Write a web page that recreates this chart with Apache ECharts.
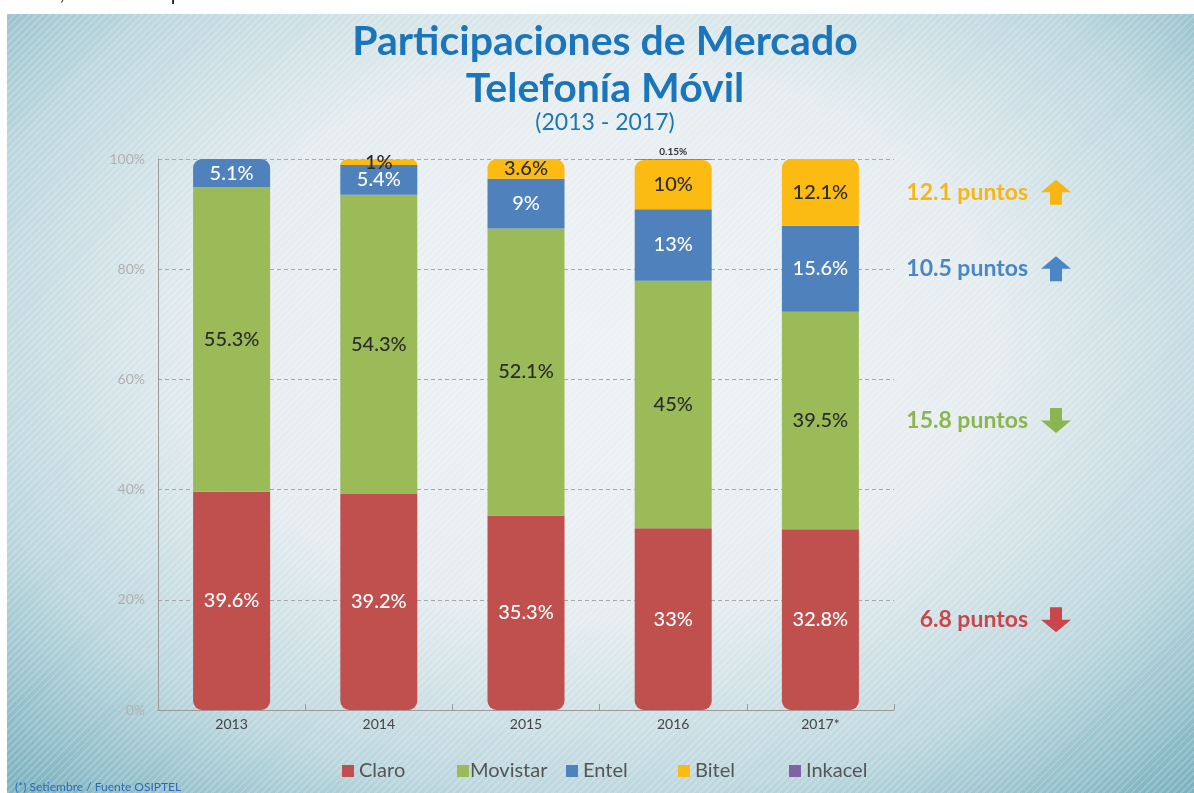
<!DOCTYPE html>
<html>
<head>
<meta charset="utf-8">
<script src="https://cdn.jsdelivr.net/npm/echarts@6/dist/echarts.min.js"></script>
<style>
  html, body { margin: 0; padding: 0; background: #ffffff; width: 1194px; height: 793px; overflow: hidden; }
  #bg {
    position: absolute; left: 7px; top: 14px; width: 1187px; height: 779px;
    background:
      repeating-linear-gradient(135deg, rgba(255,255,255,0.18) 0px, rgba(255,255,255,0.18) 2px, rgba(255,255,255,0) 2px, rgba(255,255,255,0) 5px),
      radial-gradient(ellipse 72% 78% at 50% 42%, #eef2f4 0%, #e6edf0 45%, #bcd7de 75%, #7db3c0 100%);
  }
  #chart { position: absolute; left: 0; top: 0; width: 1194px; height: 793px; }
</style>
</head>
<body>
<div id="bg"></div>
<div id="chart"></div>
<script>
// ---- data ----
var years = ['2013', '2014', '2015', '2016', '2017*'];
var seriesNames = ['Claro', 'Movistar', 'Entel', 'Bitel', 'Inkacel'];
var claro    = [39.6, 39.2, 35.3, 33.0, 32.8];
var movistar = [55.3, 54.3, 52.1, 44.9, 39.5];
var entel    = [5.1, 5.4, 9.0, 13.0, 15.6];
var bitel    = [0, 1.0, 3.6, 8.9, 12.1];
var inkacel  = [0, 0, 0, 0.15, 0];
var claroLabels    = ['39.6%', '39.2%', '35.3%', '33%', '32.8%'];
var movistarLabels = ['55.3%', '54.3%', '52.1%', '45%', '39.5%'];
var entelLabels    = ['5.1%', '5.4%', '9%', '13%', '15.6%'];
var bitelLabels    = ['', '1%', '3.6%', '10%', '12.1%'];
var inkacelLabels  = ['', '', '', '0.15%', ''];
var yTicks = [0, 20, 40, 60, 80, 100];
var annotations = ['12.1 puntos', '10.5 puntos', '15.8 puntos', '6.8 puntos'];
var annotationSeries = ['Bitel', 'Entel', 'Movistar', 'Claro'];
var annotationDir = ['up', 'up', 'down', 'down'];

var colors = { Claro: '#c0504d', Movistar: '#9bbb59', Entel: '#4f81bd', Bitel: '#fcbb12', Inkacel: '#8064a2' };
var annColors = { Claro: '#c9474a', Movistar: '#8cb44f', Entel: '#4a86c6', Bitel: '#f7b613' };
var FONT = 'Lato, "Open Sans", sans-serif';

var values = [claro, movistar, entel, bitel, inkacel];
var labels = [claroLabels, movistarLabels, entelLabels, bitelLabels, inkacelLabels];
var labelColors = ['#ffffff', '#2b2b2b', '#ffffff', '#2b2b2b', '#333333'];

// topmost non-zero segment per category gets rounded top
var R = 9;
function radiusFor(si, ci) {
  var top = -1;
  for (var s = 0; s < values.length; s++) if (values[s][ci] > 0) top = s;
  var tl = 0, bl = 0;
  if (si === top) tl = R;
  if (ci === 3 && si === 3) tl = R; // Bitel under very thin Inkacel
  if (si === 0) bl = R;
  return [tl, tl, bl, bl];
}

var series = seriesNames.map(function (name, si) {
  return {
    name: name,
    type: 'bar',
    stack: 'total',
    barWidth: 77,
    clip: false,
    itemStyle: { color: colors[name] },
    label: {
      show: true,
      position: si === 4 ? 'top' : 'inside',
      distance: 2,
      color: labelColors[si],
      fontFamily: FONT,
      fontSize: si === 4 ? 10 : 20,
      fontWeight: si === 4 ? 'bold' : 500,
      formatter: function (p) { return labels[si][p.dataIndex]; }
    },
    data: values[si].map(function (v, ci) {
      return { value: v, itemStyle: { borderRadius: radiusFor(si, ci) } };
    })
  };
});

var legendX = [337, 452, 561, 673, 784];
var legends = seriesNames.map(function (n, i) {
  return {
    data: [n], left: legendX[i], top: 756, icon: 'rect',
    itemWidth: 12, itemHeight: 12, itemGap: 0,
    textStyle: { color: '#555555', fontSize: 20, fontFamily: FONT, padding: [0, 0, 0, i === 1 ? -4 : 0] }
  };
});

var chart = echarts.init(document.getElementById('chart'), null, { renderer: 'canvas' });
chart.setOption({
  backgroundColor: 'transparent',
  animation: false,
  legend: legends,
  grid: { left: 158, right: 300, top: 159, bottom: 83 },
  xAxis: {
    type: 'category',
    data: years,
    axisLine: { lineStyle: { color: '#9a9a9a' } },
    axisTick: { show: true, inside: true, length: 6, lineStyle: { color: '#9a9a9a' } },
    axisLabel: { color: '#444444', fontSize: 14, fontFamily: FONT, margin: 7 }
  },
  yAxis: {
    type: 'value', min: 0, max: 100, interval: 20,
    axisLine: { show: true, lineStyle: { color: '#9a9a9a' } },
    axisTick: { show: false },
    axisLabel: {
      color: '#b0b0b0', fontSize: 14, fontFamily: FONT, margin: 13,
      formatter: function (v) { return yTicks.indexOf(v) >= 0 ? v + '%' : ''; }
    },
    splitLine: { show: true, lineStyle: { color: '#a8a8a8', type: [4, 3] } }
  },
  series: series
});

// graphics: title, subtitle, annotations, footnote
var graphics = [
  { type: 'text', left: 0, top: -17, style: { text: 'e 100r, 2.4% más que en el 2016.', fill: '#222', font: '21px ' + FONT } },
  { type: 'text', x: 605, y: 42, style: { text: 'Participaciones de Mercado', fill: '#1b75bb', font: 'bold 41px ' + FONT, textAlign: 'center', textVerticalAlign: 'middle' } },
  { type: 'text', x: 605, y: 89, style: { text: 'Telefonía Móvil', fill: '#1b75bb', font: 'bold 41px ' + FONT, textAlign: 'center', textVerticalAlign: 'middle' } },
  { type: 'text', x: 605, y: 123, style: { text: '(2013 - 2017)', fill: '#1b75bb', font: '23px ' + FONT, textAlign: 'center', textVerticalAlign: 'middle' } },
  { type: 'text', x: 15, y: 787, style: { text: '(*) Setiembre / Fuente OSIPTEL', fill: '#2a6db5', font: '12px ' + FONT, textAlign: 'left', textVerticalAlign: 'middle' } }
];

annotations.forEach(function (t, i) {
  var sName = annotationSeries[i];
  var si = seriesNames.indexOf(sName);
  var base = 0;
  for (var s = 0; s < si; s++) base += values[s][4];
  var mid = base + values[si][4] / 2;
  var py = chart.convertToPixel({ gridIndex: 0 }, [4, mid])[1];
  var c = annColors[sName];
  graphics.push({ type: 'text', x: 1028, y: py, style: { text: t, fill: c, font: 'bold 23px ' + FONT, textAlign: 'right', textVerticalAlign: 'middle' } });
  var cx = 1056, h = 25, hw = 15, sw = 6;
  var pts;
  if (annotationDir[i] === 'up') {
    pts = [[cx, py - h / 2], [cx + hw, py], [cx + sw, py], [cx + sw, py + h / 2], [cx - sw, py + h / 2], [cx - sw, py], [cx - hw, py]];
  } else {
    pts = [[cx, py + h / 2], [cx + hw, py], [cx + sw, py], [cx + sw, py - h / 2], [cx - sw, py - h / 2], [cx - sw, py], [cx - hw, py]];
  }
  graphics.push({ type: 'polygon', shape: { points: pts }, style: { fill: c } });
});

chart.setOption({ graphic: graphics });
</script>
</body>
</html>
